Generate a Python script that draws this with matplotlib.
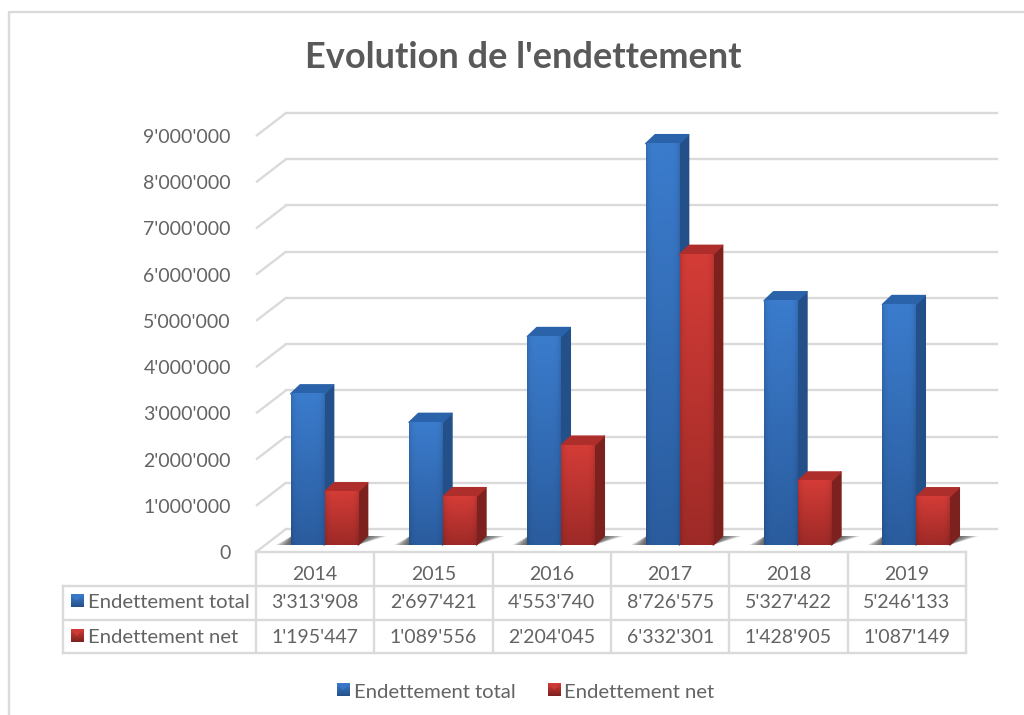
import matplotlib
matplotlib.use("Agg")
import matplotlib.pyplot as plt
import numpy as np
from matplotlib.colors import to_rgb
from matplotlib.patches import Polygon

plt.rcParams["font.family"] = ["Lato", "DejaVu Sans"]

YEARS = ["2014", "2015", "2016", "2017", "2018", "2019"]
TOTAL = [3313908, 2697421, 4553740, 8726575, 5327422, 5246133]
NET = [1195447, 1089556, 2204045, 6332301, 1428905, 1087149]
YTICKS = [0, 1000000, 2000000, 3000000, 4000000, 5000000, 6000000, 7000000, 8000000, 9000000]
TITLE = "Evolution de l'endettement"
SERIES = ["Endettement total", "Endettement net"]

TEXT = "#636363"
LINE = "#DADADA"
BLUE = {"top": "#3B7CCD", "bottom": "#2A5C9E", "side": "#24508A", "cap": "#2B63AB"}
RED = {"top": "#D43C37", "bottom": "#9E2A27", "side": "#7C211E", "cap": "#AE2E2B"}

W, H = 1024, 715
LEFT, RIGHT, FRONT, TOP9 = 256, 966, 552, 136
PX_X = 6 / (RIGHT - LEFT)
PX_Y = 9000000 / (FRONT - TOP9)
WALL_DX, WALL_DY = 30, 23
BAR_DX, BAR_DY = 9, 7
DEPTH_X, DEPTH_Y = 9.5, 9
BAR_W = 33.5 * PX_X
TOP_INSET = 2  # tops look lower in the reference because the corners are rounded

NUM_SIZE = 14
LABEL_SIZE = 14.6


def fmt(v):
    return f"{v:,}".replace(",", "'")


def gradient(ax, x0, x1, y0, y1, c_top, c_bottom, zorder, edge=0.0):
    a, b = np.array(to_rgb(c_top)), np.array(to_rgb(c_bottom))
    t = np.linspace(0, 1, 64)[:, None, None]
    img = a[None, None, :] * (1 - t) + b[None, None, :] * t
    # slightly darker towards the side edges, like the bevel on the bars
    u = np.abs(np.linspace(-1, 1, 32))[None, :, None]
    img = np.clip(img * (1 - edge * u ** 6), 0, 1)
    ax.imshow(img, extent=[x0, x1, y0, y1], origin="upper", aspect="auto",
              zorder=zorder, clip_on=False, interpolation="bilinear")


def draw_shadow(ax, x0, x1, y0):
    # soft shadow wedges on the floor, left and right of the pair of bars
    dx, dy = PX_X, PX_Y
    ddx, ddy = DEPTH_X * dx, DEPTH_Y * dy
    for k in np.linspace(1, 0.08, 14):
        left = [(x0 - 15 * k * dx, y0), (x0 + 1 * dx, y0 + ddy), (x0 + 1 * dx, y0)]
        right = [(x1 - ddx, y0), (x1, y0 + ddy), (x1 + 20 * k * dx, y0 + ddy)]
        for pts in (left, right):
            ax.add_patch(Polygon(pts, closed=True, fc="#444444", ec="none", alpha=0.1,
                                 zorder=2, clip_on=False))


def draw_bar(ax, x, value, colors, zorder):
    x1 = x + BAR_W
    y0 = BAR_DY * PX_Y
    y1 = y0 + value - TOP_INSET * PX_Y
    ddx, ddy = DEPTH_X * PX_X, DEPTH_Y * PX_Y
    ax.add_patch(Polygon([(x1, y0), (x1 + ddx, y0 + ddy), (x1 + ddx, y1 + ddy), (x1, y1)],
                         fc=colors["side"], ec=colors["side"], lw=1, joinstyle="round",
                         zorder=zorder, clip_on=False))
    ax.add_patch(Polygon([(x, y1), (x + ddx, y1 + ddy), (x1 + ddx, y1 + ddy), (x1, y1)],
                         fc=colors["cap"], ec=colors["cap"], lw=1, joinstyle="round",
                         zorder=zorder, clip_on=False))
    gradient(ax, x, x1, y0, y1, colors["top"], colors["bottom"], zorder + 0.1, edge=0.12)


def draw_icon(ov, x, y, colors):
    size = 12.5
    gradient(ov, x, x + size, y + size, y, colors["top"], colors["side"], 3)
    ov.add_patch(Polygon([(x + 2, y + 1.5), (x + size - 2, y + 1.5), (x + size / 2, y + 6)],
                         fc=colors["top"], ec="none", alpha=0.8, zorder=4))


fig = plt.figure(figsize=(W / 100, H / 100), dpi=100, facecolor="white")

# overlay in pixels for the frame, table and legend
ov = fig.add_axes([0, 0, 1, 1], zorder=3)
ov.patch.set_alpha(0)
ov.axis("off")
ax = fig.add_axes([LEFT / W, (H - FRONT) / H, (RIGHT - LEFT) / W, (FRONT - TOP9) / H], zorder=2)
ax.patch.set_alpha(0)

# gridlines on the back wall and the side wall
wx, wy = WALL_DX * PX_X, WALL_DY * PX_Y
for v in YTICKS:
    ax.plot([wx, 6 + wx + PX_X], [v + wy, v + wy], color=LINE, lw=1.7, zorder=1, clip_on=False)
    ax.plot([0, wx], [v, v + wy], color=LINE, lw=1.7, zorder=1, clip_on=False,
            solid_capstyle="butt")

for i, year in enumerate(YEARS):
    x = i + 0.5 - BAR_W + 9 * PX_X
    draw_shadow(ax, x, x + 2 * BAR_W + DEPTH_X * PX_X, BAR_DY * PX_Y)
    draw_bar(ax, x, TOTAL[i], BLUE, 4)
    draw_bar(ax, x + BAR_W + 0.5 * PX_X, NET[i], RED, 5)

ax.set_xlim(0, 6)
ax.set_ylim(0, 9000000)
ax.set_xticks([])
ax.set_yticks(YTICKS)
ax.set_yticklabels([fmt(v) for v in YTICKS], fontsize=NUM_SIZE, color=TEXT)
ax.tick_params(axis="y", length=0, pad=18)
for s in ax.spines.values():
    s.set_visible(False)

# chart frame, open on the right and at the bottom
ov.plot([9, 9, W], [H, 12, 12], color=LINE, lw=1.7, zorder=1)

ov.text(523.5, 57.5, TITLE, fontsize=26, fontweight="bold", color="#595959", ha="center", va="center")

# data table
col = np.linspace(LEFT, RIGHT, len(YEARS) + 1)
rows = [FRONT, 586, 620, 653]
for x in col:
    ov.plot([x, x], [rows[0], rows[-1]], color=LINE, lw=1.7, zorder=1)
ov.plot([LEFT, RIGHT], [rows[0], rows[0]], color=LINE, lw=1.7, zorder=1)
for y in rows[1:]:
    ov.plot([63, RIGHT], [y, y], color=LINE, lw=1.7, zorder=1)
ov.plot([63, 63], [rows[1], rows[3]], color=LINE, lw=1.7, zorder=1)

for i, year in enumerate(YEARS):
    cx = (col[i] + col[i + 1]) / 2
    ov.text(cx, 574, year, fontsize=NUM_SIZE, color=TEXT, ha="center", va="center")
    ov.text(cx, 602.5, fmt(TOTAL[i]), fontsize=NUM_SIZE, color=TEXT, ha="center", va="center")
    ov.text(cx, 637.5, fmt(NET[i]), fontsize=NUM_SIZE, color=TEXT, ha="center", va="center")

draw_icon(ov, 70.5, 595, BLUE)
draw_icon(ov, 70.5, 630, RED)
ov.text(88, 602.5, SERIES[0], fontsize=LABEL_SIZE, color=TEXT, va="center")
ov.text(88, 637.5, SERIES[1], fontsize=LABEL_SIZE, color=TEXT, va="center")

# legend
draw_icon(ov, 337, 684, BLUE)
draw_icon(ov, 548, 684, RED)
ov.text(354, 692, SERIES[0], fontsize=LABEL_SIZE, color=TEXT, va="center")
ov.text(564, 692, SERIES[1], fontsize=LABEL_SIZE, color=TEXT, va="center")

ov.set_xlim(0, W)
ov.set_ylim(H, 0)

fig.savefig("out.png", dpi=100, facecolor="white")
